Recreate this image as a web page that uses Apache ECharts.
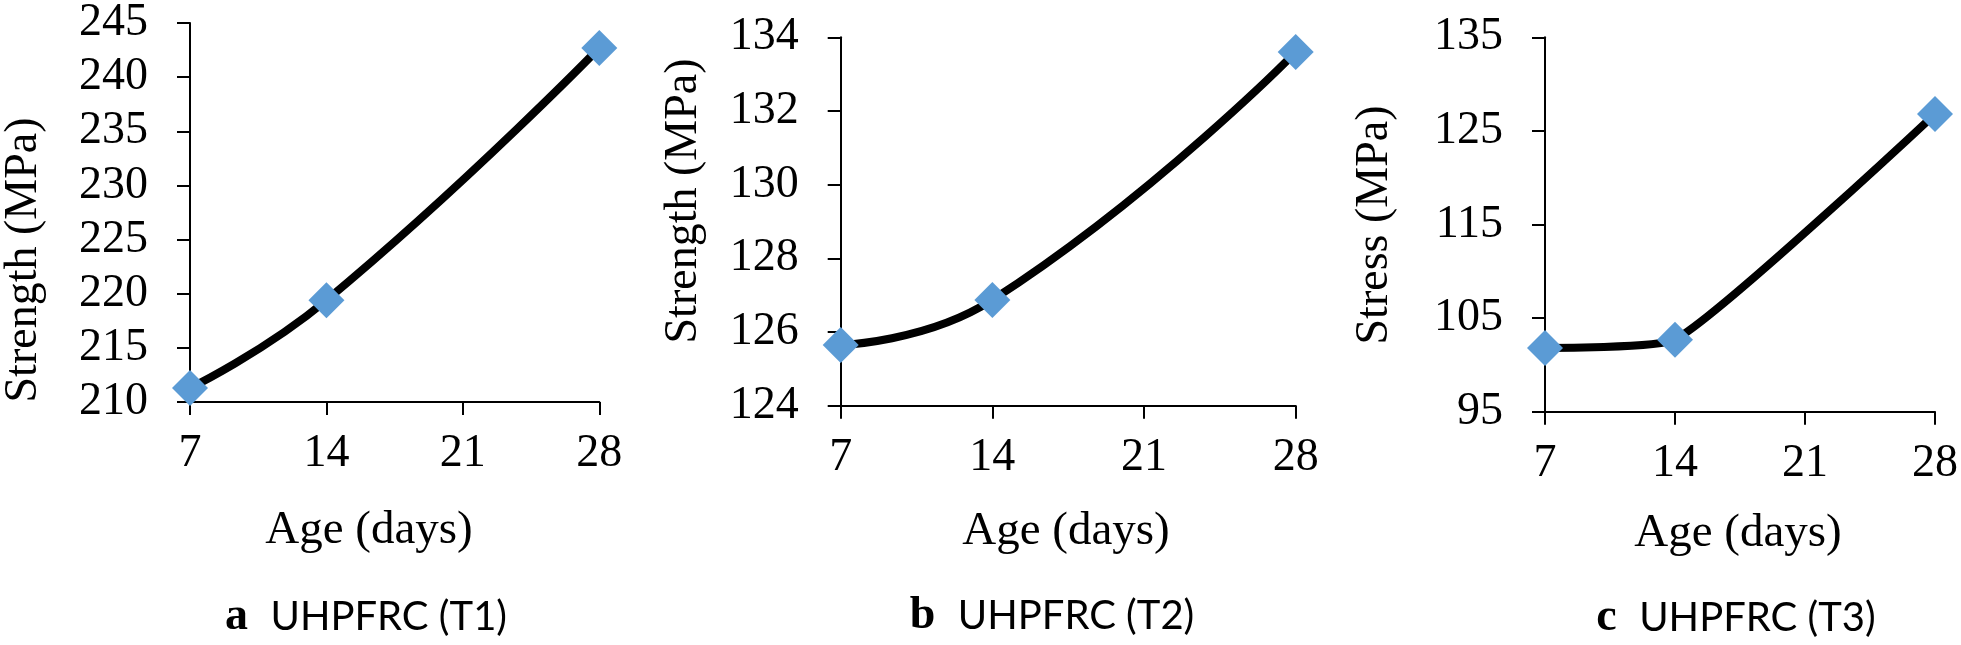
<!DOCTYPE html>
<html>
<head>
<meta charset="utf-8">
<script src="https://cdn.jsdelivr.net/npm/echarts@6/dist/echarts.min.js"></script>
<style>
html,body{margin:0;padding:0;background:#fff;}
#chart{width:1961px;height:645px;}
</style>
</head>
<body>
<div id="chart"></div>
<script>
// ---- data ----
const ages = [7, 14, 28];
const strengthT1 = [211.3, 219.4, 242.7];
const strengthT2 = [125.65, 126.87, 133.6];
const stressT3 = [101.8, 102.7, 126.8];
const xTicks = [7, 14, 21, 28];
const yTicksT1 = [210, 215, 220, 225, 230, 235, 240, 245];
const yTicksT2 = [124, 126, 128, 130, 132, 134];
const yTicksT3 = [95, 105, 115, 125, 135];
const yNames = ['Strength (MPa)', 'Strength (MPa)', 'Stress (MPa)'];
const xName = 'Age (days)';
const panelLetters = ['a', 'b', 'c'];
const panelTitles = ['UHPFRC (T1)', 'UHPFRC (T2)', 'UHPFRC (T3)'];

const seriesValues = [strengthT1, strengthT2, stressT3];
const yTicks = [yTicksT1, yTicksT2, yTicksT3];

const grids = [
  {left: 190, top: 22.7, width: 409.3, height: 379.3},
  {left: 840.7, top: 37.3, width: 455, height: 368.4},
  {left: 1545, top: 37.3, width: 392.3, height: 374.4}
];
const smoothness = [0.5, 0.5, 0.15];
const yNamePos = [[24, 260], [684, 201], [1375, 225]];
const xNamePos = [[369, 531], [1066, 532], [1738, 534]];
const captionPos = [[366, 617], [1052, 616], [1736, 618]];

const serif = '"Liberation Serif","Times New Roman",serif';
const axisColor = '#000';

const xAxes = [], yAxes = [], series = [], graphics = [];
for (let i = 0; i < 3; i++) {
  const yt = yTicks[i];
  xAxes.push({
    gridIndex: i, type: 'value', min: xTicks[0], max: xTicks[xTicks.length - 1],
    axisLine: {show: true, onZero: false, lineStyle: {color: axisColor, width: 2}},
    axisTick: {show: true, inside: false, length: 13, lineStyle: {color: axisColor, width: 2}, customValues: xTicks},
    axisLabel: {show: true, margin: 29, color: '#000', fontFamily: serif, fontSize: 46, customValues: xTicks},
    splitLine: {show: false}
  });
  yAxes.push({
    gridIndex: i, type: 'value', min: yt[0], max: yt[yt.length - 1],
    axisLine: {show: true, onZero: false, lineStyle: {color: axisColor, width: 2}},
    axisTick: {show: true, inside: false, length: 13, lineStyle: {color: axisColor, width: 2}, customValues: yt},
    axisLabel: {show: true, margin: 42, color: '#000', fontFamily: serif, fontSize: 46, customValues: yt},
    splitLine: {show: false}
  });
  series.push({
    type: 'line', xAxisIndex: i, yAxisIndex: i,
    data: ages.map((a, k) => [a, seriesValues[i][k]]),
    smooth: smoothness[i],
    lineStyle: {color: '#000', width: 8},
    symbol: 'diamond', symbolSize: 36,
    itemStyle: {color: '#5B9BD5', borderWidth: 0},
    z: 3
  });
  graphics.push({
    type: 'text', x: yNamePos[i][0], y: yNamePos[i][1], rotation: Math.PI / 2,
    style: {text: yNames[i], font: '46px ' + serif, fill: '#000', textAlign: 'center', textVerticalAlign: 'middle'}
  });
  graphics.push({
    type: 'text', x: xNamePos[i][0], y: xNamePos[i][1],
    style: {text: xName, font: '47px ' + serif, fill: '#000', textAlign: 'center', textVerticalAlign: 'middle'}
  });
  graphics.push({
    type: 'text', x: captionPos[i][0], y: captionPos[i][1],
    style: {
      text: '{l|' + panelLetters[i] + '}{s|  }{t|' + panelTitles[i] + '}',
      textAlign: 'center', textVerticalAlign: 'middle',
      rich: {
        l: {fontFamily: serif, fontWeight: 'bold', fontSize: 46, fill: '#000', color: '#000'},
        s: {fontFamily: serif, fontSize: 45},
        t: {fontFamily: 'Lato, "Open Sans", sans-serif', fontSize: 40, fill: '#000', color: '#000'}
      }
    }
  });
}

const chart = echarts.init(document.getElementById('chart'), null, {renderer: 'canvas'});
chart.setOption({
  animation: false,
  backgroundColor: '#fff',
  grid: grids.map(g => Object.assign({containLabel: false}, g)),
  xAxis: xAxes,
  yAxis: yAxes,
  series: series,
  graphic: graphics
});
</script>
</body>
</html>
